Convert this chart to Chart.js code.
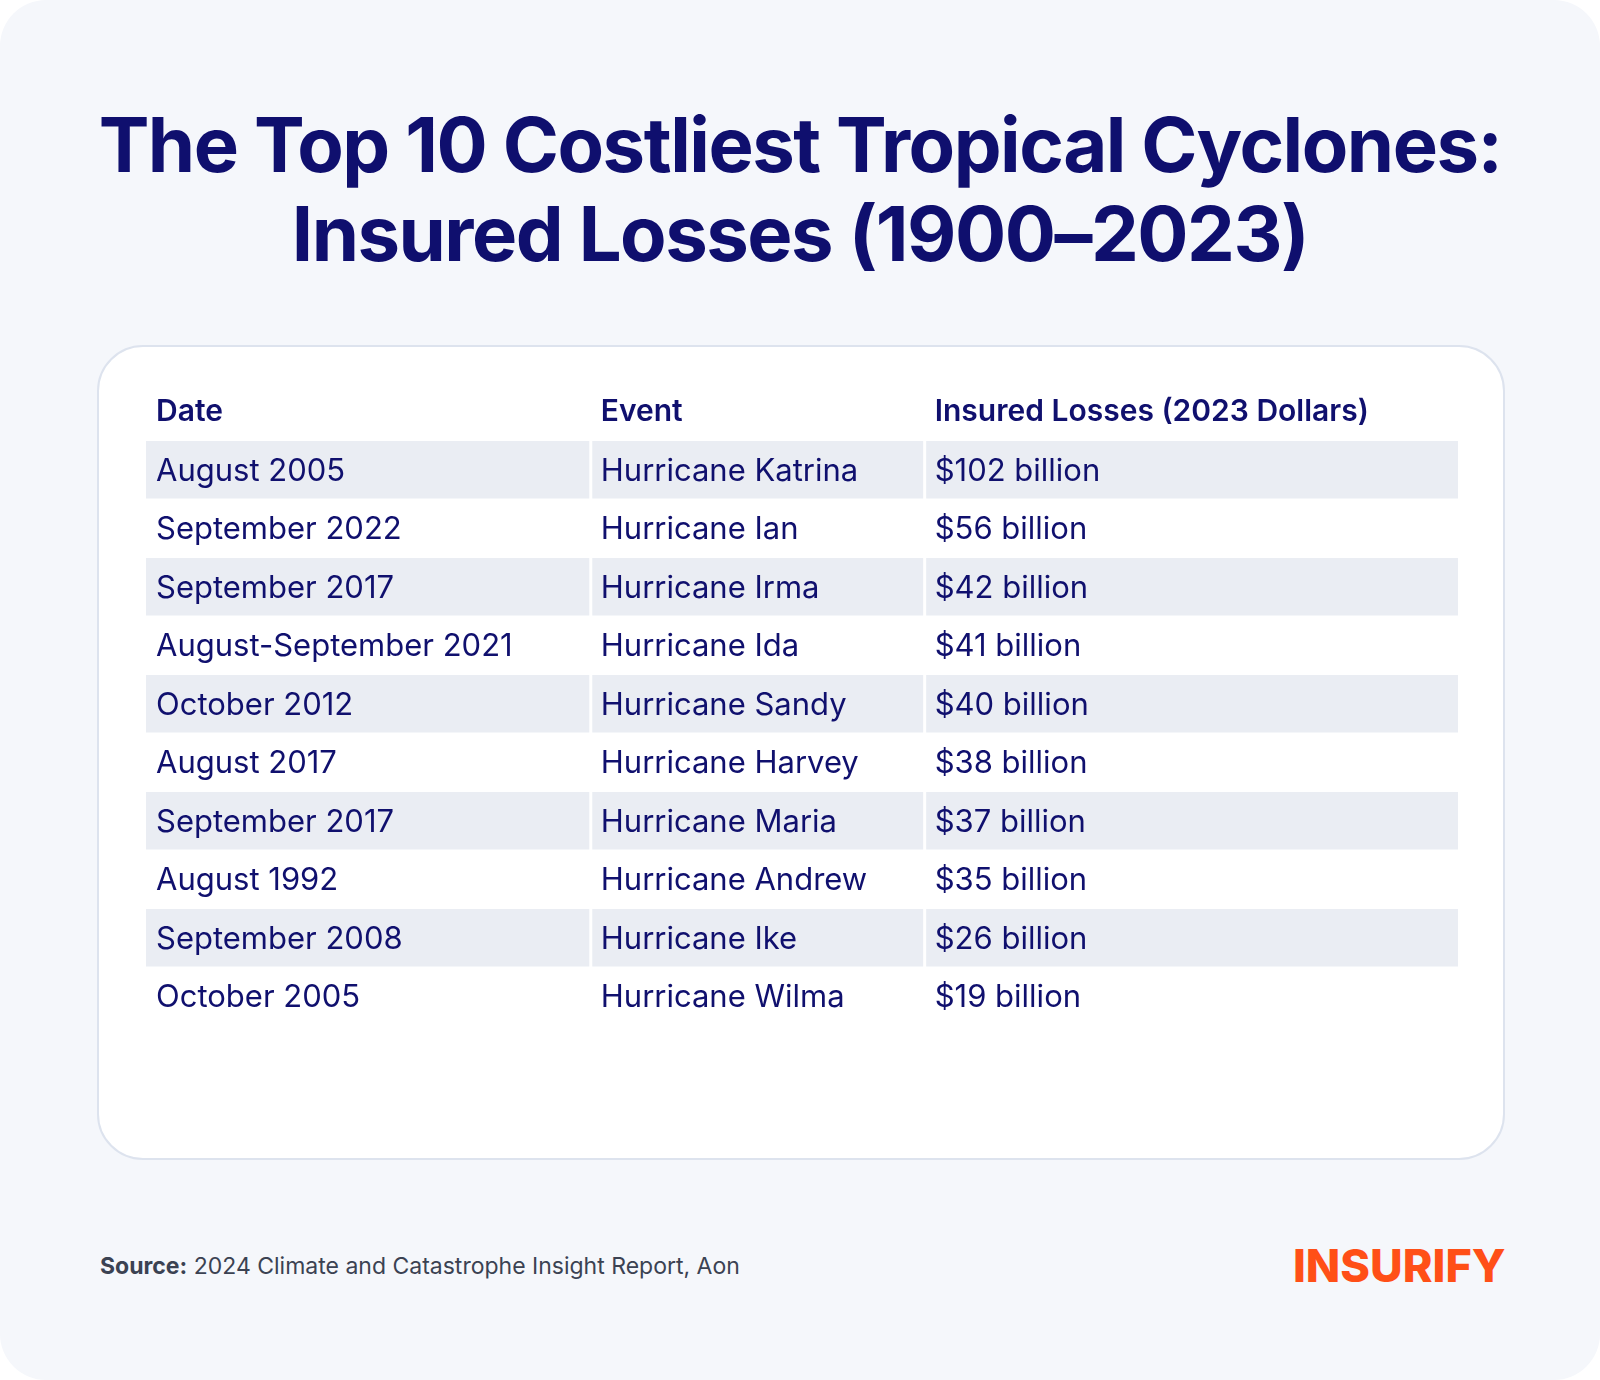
<!DOCTYPE html>
<html>
<head>
<meta charset="utf-8">
<script src="https://cdn.jsdelivr.net/npm/chart.js@4/dist/chart.umd.min.js"></script>
<style>
  html, body { margin: 0; padding: 0; background: #ffffff; }
  .page { position: relative; width: 1600px; height: 1380px; background: #f5f7fb; border-radius: 46px; overflow: hidden; font-family: Inter, sans-serif; }
  h1 { position: absolute; left: 0; top: 100px; width: 1600px; margin: 0; text-align: center; color: #0f0f6e; font-size: 76px; font-weight: 700; line-height: 89px; letter-spacing: -1.5px; }
  .card { position: absolute; left: 97px; top: 345px; width: 1404px; height: 811px; background: #fff; border: 2px solid #dde3ee; border-radius: 46px; }
  .wrap { position: absolute; left: 146px; top: 380px; width: 1312px; height: 710px; }
  .source { position: absolute; left: 100px; top: 1252px; font-size: 23px; color: #3b4252; }
  .source b { font-weight: 700; }
  .logo { position: absolute; left: 1293px; top: 1238px; font-size: 45px; font-weight: 800; color: #ff4f17; letter-spacing: 0px; }
</style>
</head>
<body>
<div class="page">
  <h1>The Top 10 Costliest Tropical Cyclones:<br>Insured Losses (1900–2023)</h1>
  <div class="card"></div>
  <div class="wrap"><canvas id="tabela"></canvas></div>
  <div class="source"><b>Source:</b> 2024 Climate and Catastrophe Insight Report, Aon</div>
  <div class="logo">INSURIFY</div>
</div>
<script>
// dados da tabela
const headers = ['Date', 'Event', 'Insured Losses (2023 Dollars)'];
const dates = ['August 2005', 'September 2022', 'September 2017', 'August-September 2021', 'October 2012',
               'August 2017', 'September 2017', 'August 1992', 'September 2008', 'October 2005'];
const events = ['Hurricane Katrina', 'Hurricane Ian', 'Hurricane Irma', 'Hurricane Ida', 'Hurricane Sandy',
                'Hurricane Harvey', 'Hurricane Maria', 'Hurricane Andrew', 'Hurricane Ike', 'Hurricane Wilma'];
const losses = [102, 56, 42, 41, 40, 38, 37, 35, 26, 19];

const rowKeys = dates.map((d, i) => i);
const colStarts = [0, 0.339, 0.5935]; // fração da largura
const navy = '#10106e';

// desenha faixas e textos usando a escala y (categorias)
const tablePlugin = {
    id: 'tablePlugin',
    beforeDatasetsDraw(chart) {
        const ctx = chart.ctx, y = chart.scales.y, a = chart.chartArea;
        const w = a.right - a.left;
        const band = y.height / rowKeys.length;
        ctx.save();
        rowKeys.forEach((k, i) => {
            if (i % 2 !== 0) return;
            const cy = y.getPixelForValue(i);
            ctx.fillStyle = '#eaedf3';
            colStarts.forEach((c, j) => {
                const x0 = a.left + c * w + (j > 0 ? 1.5 : 0);
                const x1 = j < colStarts.length - 1 ? a.left + colStarts[j + 1] * w - 1.5 : a.right;
                ctx.fillRect(x0, cy - band / 2, x1 - x0, band - 1);
            });
        });
        ctx.restore();
    },
    afterDraw(chart) {
        const ctx = chart.ctx, y = chart.scales.y, a = chart.chartArea;
        const w = a.right - a.left;
        const band = y.height / rowKeys.length;
        ctx.save();
        ctx.fillStyle = navy;
        ctx.textBaseline = 'middle';
        ctx.font = '600 30px Inter';
        headers.forEach((h, j) => ctx.fillText(h, a.left + colStarts[j] * w + 10, a.top - band / 2 + 0));
        ctx.font = '400 31px Inter';
        rowKeys.forEach((k, i) => {
            const cy = y.getPixelForValue(i) + 1;
            const cells = [dates[i], events[i], '$' + losses[i] + ' billion'];
            cells.forEach((t, j) => ctx.fillText(t, a.left + colStarts[j] * w + 10, cy));
        });
        ctx.restore();
    }
};

new Chart(document.getElementById('tabela'), {
    type: 'bar',
    data: {
        labels: rowKeys,
        datasets: [{ data: losses, backgroundColor: 'rgba(0,0,0,0)' }]
    },
    options: {
        indexAxis: 'y',
        responsive: true,
        maintainAspectRatio: false,
        animation: false,
        layout: { padding: { top: 61, bottom: 64, left: 0, right: 0 } },
        scales: {
            x: { display: false, beginAtZero: true },
            y: { display: false, type: 'category' }
        },
        plugins: { legend: { display: false }, tooltip: { enabled: false } }
    },
    plugins: [tablePlugin]
});
</script>
</body>
</html>
